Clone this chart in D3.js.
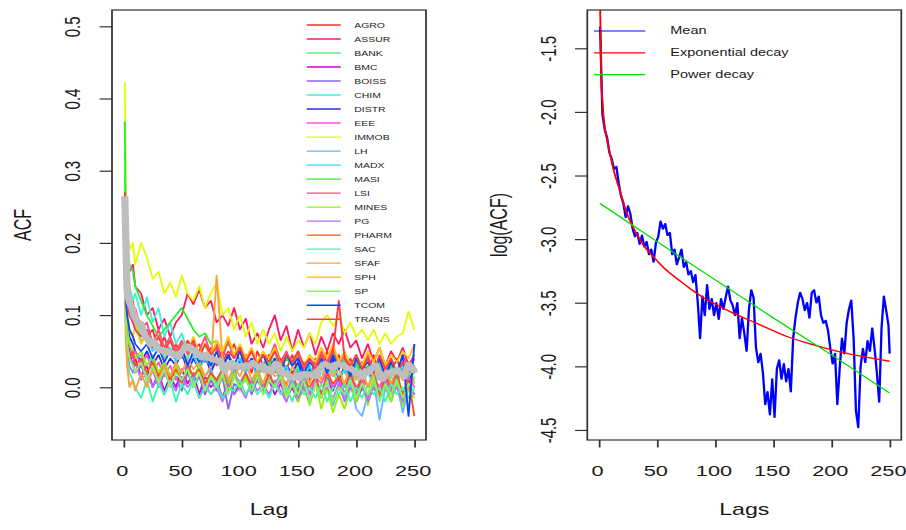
<!DOCTYPE html>
<html>
<head>
<meta charset="utf-8">
<script src="https://cdn.jsdelivr.net/npm/d3@7"></script>
<style>
  body { margin: 0; background: #fff; }
  svg { display: block; }
</style>
</head>
<body>
<svg id="figure"></svg>
<script>
// ---------- data ----------
const sectorNames = ["AGRO", "ASSUR", "BANK", "BMC", "BOISS", "CHIM", "DISTR", "EEE", "IMMOB", "LH", "MADX",
  "MASI", "LSI", "MINES", "PG", "PHARM", "SAC", "SFAF", "SPH", "SP", "TCOM", "TRANS"];
const sectorColors = ["#ff2d2d", "#ff1a66", "#5ef07e", "#c800e0", "#8a66f0", "#3cf2d8", "#2a2ae6", "#ff50e6",
  "#e0ff00", "#66b6ff", "#28daff", "#2aee2a", "#ff4a7a", "#96f000", "#b86eff", "#ff5212", "#3cf8ae",
  "#ffa03c", "#ffca00", "#86f466", "#0a46ff", "#ff3a48"];

// lags at which each sector's ACF was read
const lagGrid = [1, 2, 3, 5, 8, 10,
  15, 20, 25, 30, 35, 40, 45, 50,
  55, 60, 65, 70, 75, 80, 85, 90,
  95, 100, 105, 110, 115, 120, 125, 130,
  135, 140, 145, 150, 155, 160, 165, 170,
  175, 180, 185, 190, 195, 200, 205, 210,
  215, 220, 225, 230, 235, 240, 245, 250];

const acfAGRO = [0.28, 0.17, 0.15, 0.13, 0.12, 0.1,
  0.09, 0.07, 0.08, 0.05, 0.07, 0.045, 0.06, 0.04,
  0.065, 0.05, 0.06, 0.035, 0.055, 0.03, 0.05, 0.04,
  0.06, 0.035, 0.045, 0.02, 0.05, 0.03, 0.045, 0.02,
  0.04, 0.025, 0.045, 0.02, 0.035, 0.01, 0.04, 0.025,
  0.05, 0.03, 0.045, 0.02, 0.04, 0.015, 0.035, 0.02,
  0.045, 0.01, 0.03, 0.02, 0.04, 0.01, 0.035, 0.02];
const acfASSUR = [0.26, 0.2, 0.18, 0.16, 0.17, 0.14,
  0.13, 0.1, 0.11, 0.08, 0.095, 0.07, 0.09, 0.1,
  0.13, 0.115, 0.135, 0.11, 0.12, 0.09, 0.1, 0.085,
  0.11, 0.08, 0.095, 0.06, 0.075, 0.055, 0.08, 0.1,
  0.065, 0.085, 0.05, 0.08, 0.055, 0.075, 0.045, 0.07,
  0.05, 0.075, 0.06, 0.08, 0.055, 0.065, 0.04, 0.06,
  0.035, 0.055, 0.03, 0.05, 0.035, 0.055, 0.03, 0.045];
const acfBANK = [0.3, 0.16, 0.14, 0.11, 0.1, 0.09,
  0.07, 0.075, 0.05, 0.06, 0.04, 0.055, 0.035, 0.05,
  0.04, 0.06, 0.03, 0.045, 0.025, 0.04, 0.02, 0.035,
  0.015, 0.03, 0.02, 0.04, 0.015, 0.035, 0.01, 0.03,
  0.005, 0.025, 0.015, 0.03, -0.005, 0.02, 0.01, 0.03,
  0.005, 0.025, 0.0, 0.03, 0.01, 0.02, -0.005, 0.025,
  0.01, 0.03, 0.0, 0.02, 0.01, 0.025, -0.005, 0.015];
const acfBMC = [0.18, 0.1, 0.07, 0.05, 0.03, 0.04,
  0.015, 0.03, 0.0, 0.02, -0.005, 0.015, 0.0, 0.025,
  0.005, 0.02, -0.01, 0.015, 0.0, 0.01, -0.015, 0.01,
  -0.01, 0.005, 0.02, -0.005, 0.015, 0.0, 0.01, -0.01,
  0.005, -0.015, 0.0, -0.02, 0.01, -0.01, 0.005, -0.015,
  0.01, -0.005, 0.015, -0.01, 0.005, -0.02, 0.0, -0.01,
  0.01, -0.015, 0.005, -0.01, 0.01, -0.02, 0.0, -0.01];
const acfBOISS = [0.2, 0.09, 0.06, 0.04, 0.035, 0.02,
  0.03, 0.01, 0.025, 0.0, 0.02, 0.005, 0.015, -0.005,
  0.02, 0.0, 0.015, -0.01, 0.01, -0.005, 0.015, -0.03,
  0.005, 0.0, 0.015, -0.01, 0.01, -0.005, 0.02, 0.0,
  0.01, -0.01, 0.015, -0.005, 0.0, -0.02, 0.01, -0.01,
  0.015, 0.0, 0.01, -0.015, 0.005, -0.01, 0.01, -0.02,
  0.005, -0.01, 0.015, -0.005, 0.01, -0.015, 0.005, -0.01];
const acfCHIM = [0.325, 0.17, 0.15, 0.14, 0.12, 0.13,
  0.1, 0.125, 0.09, 0.11, 0.07, 0.09, 0.06, 0.075,
  0.05, 0.065, 0.04, 0.06, 0.035, 0.05, 0.03, 0.045,
  0.025, 0.04, 0.02, 0.035, 0.015, 0.03, 0.02, 0.035,
  0.01, 0.025, 0.0, 0.02, 0.01, 0.03, 0.005, 0.02,
  0.015, 0.035, 0.01, 0.025, 0.0, 0.02, 0.01, 0.03,
  0.0, 0.02, -0.005, 0.015, 0.005, 0.03, 0.01, 0.02];
const acfDISTR = [0.22, 0.12, 0.09, 0.07, 0.06, 0.05,
  0.035, 0.05, 0.03, 0.045, 0.025, 0.04, 0.03, 0.05,
  0.02, 0.04, 0.025, 0.045, 0.02, 0.04, 0.03, 0.045,
  0.02, 0.035, 0.025, 0.04, 0.015, 0.03, 0.02, 0.04,
  0.01, 0.03, 0.02, 0.035, 0.01, 0.025, 0.015, 0.035,
  0.02, 0.04, 0.01, 0.03, 0.015, 0.035, 0.01, 0.025,
  0.005, 0.03, 0.015, 0.035, 0.01, 0.025, 0.005, 0.03];
const acfEEE = [0.24, 0.11, 0.08, 0.06, 0.04, 0.05,
  0.03, 0.045, 0.02, 0.035, 0.015, 0.03, 0.01, 0.025,
  0.03, 0.015, 0.025, 0.005, 0.02, 0.01, 0.025, 0.0,
  0.02, 0.005, 0.02, 0.0, 0.015, -0.005, 0.02, 0.0,
  0.01, -0.02, 0.015, 0.0, 0.02, -0.01, 0.015, 0.005,
  0.025, 0.0, 0.015, -0.01, 0.02, 0.0, 0.01, -0.015,
  0.015, 0.0, 0.02, -0.005, 0.01, -0.01, 0.015, 0.0];
const acfIMMOB = [0.423, 0.232, 0.215, 0.19, 0.2, 0.17,
  0.2, 0.18, 0.15, 0.16, 0.13, 0.145, 0.125, 0.155,
  0.13, 0.12, 0.14, 0.11, 0.13, 0.145, 0.1, 0.11,
  0.08, 0.1, 0.07, 0.09, 0.06, 0.08, 0.06, 0.075,
  0.05, 0.07, 0.05, 0.065, 0.055, 0.075, 0.06, 0.09,
  0.1, 0.085, 0.1, 0.075, 0.09, 0.07, 0.08, 0.065,
  0.08, 0.06, 0.075, 0.06, 0.07, 0.075, 0.105, 0.08];
const acfLH = [0.22, 0.12, 0.08, 0.06, 0.05, 0.04,
  0.045, 0.03, 0.04, 0.02, 0.035, 0.015, 0.03, 0.02,
  0.035, 0.01, 0.03, 0.015, 0.025, 0.005, 0.02, 0.01,
  0.025, 0.0, 0.02, 0.005, 0.025, 0.0, 0.015, 0.005,
  0.02, -0.01, 0.01, -0.005, 0.015, -0.02, 0.005, -0.01,
  0.01, -0.025, 0.0, -0.015, 0.01, -0.03, -0.04, -0.01,
  0.01, -0.045, 0.0, -0.02, 0.005, -0.035, 0.0, -0.01];
const acfMADX = [0.26, 0.14, 0.12, 0.1, 0.09, 0.08,
  0.065, 0.07, 0.05, 0.06, 0.045, 0.055, 0.035, 0.05,
  0.03, 0.045, 0.025, 0.04, 0.03, 0.04, 0.02, 0.035,
  0.025, 0.04, 0.02, 0.035, 0.015, 0.03, 0.02, 0.035,
  0.015, 0.03, 0.01, 0.025, 0.015, 0.03, 0.01, 0.035,
  0.02, 0.03, 0.015, 0.025, 0.005, 0.03, 0.015, 0.02,
  0.005, 0.025, 0.015, 0.03, 0.01, 0.035, 0.02, 0.04];
const acfMASI = [0.368, 0.2, 0.19, 0.17, 0.16, 0.14,
  0.12, 0.1, 0.085, 0.07, 0.08, 0.09, 0.1, 0.11,
  0.095, 0.08, 0.07, 0.075, 0.06, 0.065, 0.05, 0.06,
  0.045, 0.055, 0.04, 0.05, 0.035, 0.045, 0.03, 0.05,
  0.025, 0.04, 0.03, 0.045, 0.02, 0.035, 0.025, 0.04,
  0.03, 0.05, 0.025, 0.04, 0.02, 0.035, 0.015, 0.03,
  0.02, 0.035, 0.01, 0.03, 0.02, 0.035, 0.015, 0.025];
const acfLSI = [0.25, 0.15, 0.13, 0.12, 0.1, 0.11,
  0.08, 0.09, 0.06, 0.08, 0.055, 0.07, 0.05, 0.065,
  0.045, 0.06, 0.05, 0.07, 0.045, 0.06, 0.04, 0.065,
  0.04, 0.055, 0.035, 0.05, 0.03, 0.045, 0.04, 0.06,
  0.035, 0.05, 0.03, 0.045, 0.025, 0.04, 0.03, 0.05,
  0.035, 0.055, 0.03, 0.045, 0.02, 0.04, 0.025, 0.045,
  0.02, 0.04, 0.015, 0.04, 0.02, 0.045, 0.025, 0.04];
const acfMINES = [0.23, 0.12, 0.08, 0.06, 0.05, 0.04,
  0.05, 0.03, 0.045, 0.02, 0.035, 0.015, 0.03, 0.01,
  0.025, 0.015, 0.03, 0.005, 0.02, 0.0, 0.015, 0.005,
  0.02, -0.005, 0.015, 0.0, 0.02, -0.01, 0.01, 0.0,
  0.015, -0.01, 0.005, -0.02, 0.0, -0.025, 0.005, -0.03,
  0.0, -0.035, -0.01, -0.03, 0.0, -0.02, 0.005, -0.025,
  0.01, -0.015, 0.005, -0.02, 0.01, -0.025, 0.0, -0.015];
const acfPG = [0.2, 0.09, 0.05, 0.03, 0.02, 0.035,
  0.01, 0.02, 0.0, 0.015, -0.01, 0.01, -0.005, 0.015,
  0.0, 0.01, -0.015, 0.005, -0.01, 0.0, -0.02, 0.005,
  -0.01, 0.0, -0.015, 0.01, -0.005, 0.005, -0.01, 0.01,
  -0.005, -0.02, 0.005, -0.015, 0.0, -0.02, 0.005, -0.01,
  0.0, -0.015, 0.005, -0.02, 0.0, -0.01, 0.005, -0.02,
  0.0, -0.015, 0.01, -0.01, 0.0, -0.02, 0.005, -0.01];
const acfPHARM = [0.21, 0.12, 0.06, 0.04, 0.05, 0.03,
  0.04, 0.02, 0.035, 0.015, 0.03, 0.01, 0.025, 0.005,
  0.03, 0.015, 0.025, 0.005, 0.02, 0.01, 0.025, -0.005,
  0.015, 0.005, 0.02, 0.0, 0.015, -0.005, 0.02, 0.0,
  0.015, 0.005, 0.02, -0.005, 0.01, 0.0, 0.015, -0.01,
  0.02, 0.005, 0.015, 0.0, 0.02, -0.005, 0.015, 0.0,
  0.02, -0.01, 0.015, 0.0, 0.02, -0.01, 0.01, -0.04];
const acfSAC = [0.19, 0.08, 0.04, 0.02, 0.01, 0.0,
  -0.015, 0.01, -0.02, 0.005, -0.01, 0.01, -0.02, 0.005,
  -0.01, 0.01, -0.015, 0.0, -0.01, 0.005, -0.015, 0.0,
  -0.005, 0.01, -0.01, 0.005, -0.01, 0.0, -0.015, 0.005,
  -0.01, 0.0, -0.02, 0.005, -0.01, 0.0, -0.015, 0.005,
  -0.02, 0.0, -0.01, 0.005, -0.02, 0.0, -0.015, 0.005,
  -0.01, 0.0, -0.02, 0.005, -0.01, 0.0, -0.015, 0.0];
const acfSFAF = [0.12, 0.06, 0.03, 0.0, 0.01, -0.005,
  0.02, 0.0, 0.025, 0.01, 0.03, 0.015, 0.035, 0.02,
  0.04, 0.025, 0.035, 0.015, 0.03, 0.155, 0.04, 0.01,
  0.03, 0.015, 0.035, 0.01, 0.025, 0.005, 0.03, 0.015,
  0.02, 0.0, 0.03, 0.01, 0.025, 0.005, 0.03, 0.01,
  0.035, 0.015, 0.025, 0.005, 0.03, 0.01, 0.025, 0.0,
  0.02, 0.01, 0.03, 0.005, 0.025, 0.01, 0.03, 0.005];
const acfSPH = [0.22, 0.13, 0.1, 0.08, 0.07, 0.085,
  0.06, 0.075, 0.055, 0.07, 0.05, 0.065, 0.045, 0.06,
  0.05, 0.07, 0.045, 0.06, 0.04, 0.065, 0.05, 0.07,
  0.045, 0.06, 0.04, 0.055, 0.035, 0.05, 0.04, 0.055,
  0.03, 0.045, 0.035, 0.05, 0.03, 0.045, 0.035, 0.055,
  0.04, 0.06, 0.035, 0.05, 0.03, 0.045, 0.03, 0.05,
  0.035, 0.055, 0.03, 0.045, 0.035, 0.05, 0.04, 0.06];
const acfSP = [0.21, 0.1, 0.06, 0.04, 0.03, 0.02,
  0.035, 0.01, 0.03, 0.005, 0.025, 0.0, 0.02, 0.01,
  0.025, 0.0, 0.02, -0.005, 0.015, 0.0, 0.02, -0.01,
  0.015, 0.0, 0.01, -0.005, 0.015, -0.01, 0.01, 0.0,
  0.015, -0.015, 0.005, -0.01, 0.01, -0.02, 0.005, -0.015,
  0.01, -0.02, 0.0, -0.01, 0.01, -0.015, 0.005, -0.01,
  0.015, -0.02, 0.005, -0.01, 0.01, -0.015, 0.005, -0.005];
const acfTCOM = [0.24, 0.12, 0.1, 0.08, 0.07, 0.06,
  0.05, 0.06, 0.04, 0.055, 0.035, 0.05, 0.04, 0.055,
  0.03, 0.05, 0.035, 0.045, 0.03, 0.05, 0.025, 0.045,
  0.03, 0.05, 0.025, 0.04, 0.03, 0.045, 0.025, 0.04,
  0.02, 0.045, 0.03, 0.04, 0.02, 0.035, 0.025, 0.04,
  0.02, 0.045, 0.025, 0.035, 0.015, 0.04, 0.025, 0.035,
  0.02, 0.04, 0.015, 0.035, 0.02, 0.045, -0.04, 0.06];
const acfTRANS = [0.27, 0.16, 0.13, 0.1, 0.09, 0.08,
  0.07, 0.08, 0.055, 0.07, 0.05, 0.065, 0.045, 0.06,
  0.05, 0.065, 0.04, 0.06, 0.045, 0.055, 0.035, 0.05,
  0.04, 0.055, 0.035, 0.05, 0.03, 0.045, 0.035, 0.05,
  0.03, 0.045, 0.035, 0.05, 0.03, 0.04, 0.025, 0.045,
  0.03, 0.05, 0.12, 0.04, 0.03, 0.045, 0.025, 0.04,
  0.02, 0.045, 0.025, 0.04, 0.02, 0.035, 0.02, 0.03];

// log of the cross-sector mean ACF (right panel, blue); the grey line on the left is the same mean
const meanLags = [1, 3, 5, 7, 9, 11, 13, 15, 17, 19,
  21, 23, 25, 27, 29, 31, 33, 35, 37, 39,
  41, 43, 45, 47, 49, 51, 53, 55, 57, 59,
  61, 63, 65, 67, 69, 71, 73, 75, 77, 79,
  81, 83, 85, 87, 89, 91, 93, 95, 97, 99,
  101, 103, 105, 107, 109, 111, 113, 115, 117, 119,
  121, 123, 125, 127, 129, 131, 133, 135, 137, 139,
  141, 143, 145, 147, 149, 151, 153, 155, 157, 159,
  161, 163, 165, 167, 169, 171, 173, 175, 177, 179,
  181, 183, 185, 187, 189, 191, 193, 195, 197, 199,
  201, 203, 205, 207, 209, 211, 213, 215, 217, 219,
  221, 223, 225, 227, 229, 231, 233, 235, 237, 239,
  241, 243, 245, 247, 249, 250];
const meanLogAcf = [-1.33, -2.02, -2.14, -2.2, -2.32, -2.37, -2.45, -2.43, -2.56, -2.66,
  -2.72, -2.83, -2.74, -2.8, -2.92, -2.98, -2.95, -3.04, -2.97, -3.06,
  -3.02, -3.12, -3.08, -3.18, -3.03, -2.98, -2.86, -2.92, -2.88, -2.97,
  -2.95, -3.12, -3.08, -3.2, -3.14, -3.08, -3.22, -3.18, -3.28, -3.25,
  -3.34, -3.28, -3.5, -3.78, -3.45, -3.6, -3.36, -3.55, -3.47, -3.6,
  -3.5, -3.63, -3.47, -3.55, -3.46, -3.37, -3.48, -3.52, -3.6, -3.5,
  -3.78, -3.62, -3.74, -3.88, -3.55, -3.4, -3.46, -3.85, -3.97, -3.9,
  -4.05, -4.3, -4.2, -4.38, -4.1, -4.4, -4.02, -3.95, -4.1, -3.98,
  -4.12, -4.02, -4.2, -3.78, -3.62, -3.5, -3.42, -3.47, -3.56, -3.5,
  -3.62, -3.42, -3.4, -3.5, -3.45, -3.6, -3.66, -3.64, -3.72, -3.86,
  -3.98, -3.9, -4.3, -4.02, -3.78, -3.9, -3.66, -3.55, -3.48, -3.78,
  -4.35, -4.48, -4.0, -3.86, -3.97, -3.8, -3.88, -3.7, -3.86, -4.05,
  -4.28, -3.7, -3.45, -3.56, -3.68, -3.9];

// fitted curves (right panel)
const expLags = [1, 2, 3, 5, 7, 10, 13, 17, 20, 23, 26, 29, 35, 40, 46, 52, 60, 70, 80, 90,
  100, 115, 130, 145, 160, 180, 200, 225, 250];
const expDecay = [-1.15, -1.75, -1.92, -2.12, -2.22, -2.35, -2.47, -2.59, -2.68, -2.77,
  -2.84, -2.9, -3.0, -3.07, -3.13, -3.19, -3.26, -3.33, -3.4, -3.46,
  -3.51, -3.58, -3.64, -3.7, -3.76, -3.82, -3.87, -3.92, -3.96];
const powerLags = [1, 50, 100, 150, 200, 250];
const powerDecay = [-2.72, -3.02, -3.32, -3.62, -3.91, -4.21];

const fitNames = ["Mean", "Exponential decay", "Power decay"];
const fitColors = ["#0000ff", "#ff0000", "#00e000"];

const lagTicks = [0, 50, 100, 150, 200, 250];
const acfTicks = [0, 0.1, 0.2, 0.3, 0.4, 0.5];
const logTicks = [-1.5, -2, -2.5, -3, -3.5, -4, -4.5];

const sectorSeries = [acfAGRO, acfASSUR, acfBANK, acfBMC, acfBOISS, acfCHIM, acfDISTR, acfEEE, acfIMMOB,
  acfLH, acfMADX, acfMASI, acfLSI, acfMINES, acfPG, acfPHARM, acfSAC, acfSFAF, acfSPH, acfSP, acfTCOM, acfTRANS];

// ---------- layout ----------
// the source figure was widened after rendering, so draw in a narrower box and let the viewBox stretch it
const pageW = 906, pageH = 530;
const stretch = 906 / 625;
const innerW = pageW / stretch;
const font = "'Liberation Sans', Arial, Helvetica, sans-serif";
const ink = "#1a1a1a";
const frameInk = "#333";
const plotTop = 10, plotBottom = 440;
const tickSize = 15;
const titleSize = 16;

const svg = d3.select("#figure")
    .attr("width", pageW)
    .attr("height", pageH)
    .attr("viewBox", `0 0 ${innerW} ${pageH}`)
    .attr("preserveAspectRatio", "none");

const xLeft = d3.scaleLinear().domain([-10, 260]).range([112 / stretch, 426 / stretch]);
const yLeft = d3.scaleLinear().domain([-0.073, 0.5226]).range([plotBottom, plotTop]);
const xRight = d3.scaleLinear().domain([-10, 260]).range([587.3 / stretch, 901.3 / stretch]);
const yRight = d3.scaleLinear().domain([-4.579, -1.199]).range([plotBottom, plotTop]);

function addClip(id, x) {
    const [x0, x1] = x.range();
    svg.append("clipPath").attr("id", id)
        .append("rect")
        .attr("x", x0).attr("y", plotTop)
        .attr("width", x1 - x0).attr("height", plotBottom - plotTop);
}
addClip("clipLeft", xLeft);
addClip("clipRight", xRight);

function drawSeries(layer, lags, values, x, y, color, width) {
    const pts = values.map((v, i) => [lags[i], v]);
    layer.append("path")
        .datum(pts)
        .attr("fill", "none")
        .attr("stroke", color)
        .attr("stroke-width", width)
        .attr("stroke-linejoin", "round")
        .attr("d", d3.line().x(d => x(d[0])).y(d => y(d[1])));
}

function drawSmooth(layer, lags, values, x, y, color, width) {
    layer.append("path")
        .datum(values.map((v, i) => [lags[i], v]))
        .attr("fill", "none")
        .attr("stroke", color)
        .attr("stroke-width", width)
        .attr("d", d3.line().curve(d3.curveMonotoneX).x(d => x(d[0])).y(d => y(d[1])));
}

function drawFrame(x, y, yTicks, yFormat, xTitle, yTitle, yTitleX) {
    const [x0, x1] = x.range();
    const g = svg.append("g");

    g.append("rect")
        .attr("x", x0).attr("y", plotTop)
        .attr("width", x1 - x0).attr("height", plotBottom - plotTop)
        .attr("fill", "none").attr("stroke", frameInk).attr("stroke-width", 1.2);

    const xAxis = g.append("g")
        .attr("transform", `translate(0,${plotBottom})`)
        .call(d3.axisBottom(x).tickValues(lagTicks).tickFormat(d3.format("d")).tickSize(7.5).tickSizeOuter(0));
    xAxis.select(".domain").remove();
    xAxis.attr("font-size", tickSize).attr("font-family", font);
    xAxis.selectAll(".tick line").attr("stroke", frameInk).attr("stroke-width", 1.2);
    // labels sit a touch left of their ticks in the original
    xAxis.selectAll(".tick text").attr("x", -2 / stretch).attr("y", 36).attr("dy", null).attr("fill", ink);

    const yAxis = g.append("g")
        .attr("transform", `translate(${x0},0)`)
        .call(d3.axisLeft(y).tickValues(yTicks).tickFormat(yFormat).tickSize(8.5).tickSizeOuter(0));
    yAxis.select(".domain").remove();
    yAxis.attr("font-size", tickSize).attr("font-family", font);
    yAxis.selectAll(".tick line").attr("stroke", frameInk).attr("stroke-width", 1.2);
    yAxis.selectAll(".tick text")
        .attr("x", 0)
        .attr("dy", "0.35em")
        .attr("text-anchor", "middle")
        .attr("fill", ink)
        .attr("transform", "translate(-27,0) rotate(-90)");

    g.append("text")
        .attr("x", (x0 + x1) / 2).attr("y", 515)
        .attr("text-anchor", "middle")
        .attr("font-family", font).attr("font-size", titleSize).attr("fill", ink)
        .text(xTitle);

    g.append("text")
        .attr("transform", `translate(${yTitleX},${(plotTop + plotBottom) / 2}) rotate(-90)`)
        .attr("dy", "0.35em")
        .attr("text-anchor", "middle")
        .attr("font-family", font).attr("font-size", titleSize).attr("fill", ink)
        .text(yTitle);
}

// ---------- left panel: ACF by sector ----------
const leftLayer = svg.append("g").attr("clip-path", "url(#clipLeft)");
sectorSeries.forEach((vals, i) => drawSeries(leftLayer, lagGrid, vals, xLeft, yLeft, sectorColors[i], 1.3));
drawSeries(leftLayer, meanLags, meanLogAcf.map(v => Math.exp(v)), xLeft, yLeft, "#bebebe", 5);

drawFrame(xLeft, yLeft, acfTicks, d => d.toFixed(1), "Lag", "ACF", 22.5 / stretch);

const legLeft = svg.append("g");
sectorNames.forEach((name, i) => {
    const yy = 25 + i * 14.01;
    legLeft.append("line")
        .attr("x1", 306.7 / stretch).attr("x2", 340.7 / stretch)
        .attr("y1", yy).attr("y2", yy)
        .attr("stroke", sectorColors[i]).attr("stroke-width", 1.4);
    legLeft.append("text")
        .attr("x", 354.3 / stretch).attr("y", yy).attr("dy", "0.35em")
        .attr("font-family", font).attr("font-size", 7.2).attr("fill", ink)
        .text(name);
});

// ---------- right panel: log mean ACF and fits ----------
const rightLayer = svg.append("g").attr("clip-path", "url(#clipRight)");
drawSeries(rightLayer, meanLags, meanLogAcf, xRight, yRight, fitColors[0], 1.6);
drawSmooth(rightLayer, expLags, expDecay, xRight, yRight, fitColors[1], 1.3);
drawSeries(rightLayer, powerLags, powerDecay, xRight, yRight, fitColors[2], 1.1);

drawFrame(xRight, yRight, logTicks, d => d.toFixed(1), "Lags", "log(ACF)", 498.8 / stretch);

const legRight = svg.append("g");
fitNames.forEach((name, i) => {
    const yy = 31 + i * 21.85;
    legRight.append("line")
        .attr("x1", 594 / stretch).attr("x2", 645.3 / stretch)
        .attr("y1", yy).attr("y2", yy)
        .attr("stroke", fitColors[i]).attr("stroke-width", 1.2);
    legRight.append("text")
        .attr("x", 670.3 / stretch).attr("y", yy).attr("dy", "0.35em")
        .attr("font-family", font).attr("font-size", 10).attr("fill", ink)
        .text(name);
});
</script>
</body>
</html>
